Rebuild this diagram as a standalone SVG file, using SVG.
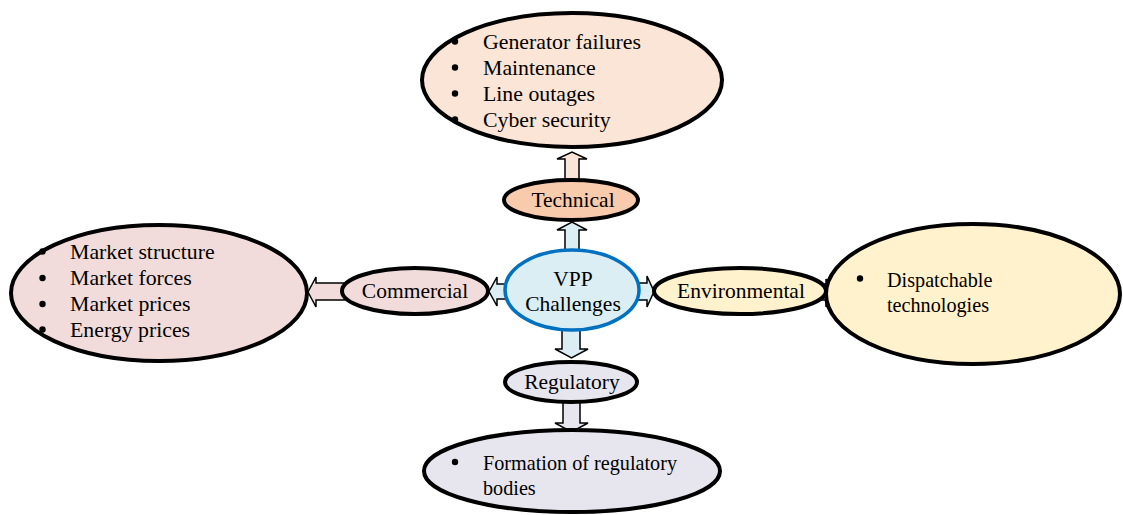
<svg xmlns="http://www.w3.org/2000/svg" width="1123" height="515" viewBox="0 0 1123 515">
  <style>
    text { font-family: "Liberation Serif", "Times New Roman", serif; font-size: 21.5px; fill: #000; }
    .mid { text-anchor: middle; }
    .list { font-size: 21.8px; }
    .small { font-size: 20.2px; }
    .dot { fill: #000; }
    .node { stroke: #000; stroke-width: 4; }
    .core { stroke: #0070c0; stroke-width: 3.5; }
    .arrow { stroke: #000; stroke-width: 1.5; stroke-linejoin: miter; }
    .tech { fill: #fbe5d6; }
    .tech-dark { fill: #f8cbad; }
    .comm { fill: #f2dcdb; }
    .env { fill: #fff2cc; }
    .reg { fill: #e7e6ef; }
    .vpp { fill: #dbeef4; }
  </style>

  <g id="connectors">
    <!-- Technical up to its detail oval -->
    <path class="arrow tech" d="M565,182 V159 H557 L572,152 L587,159 H579 V182 Z"/>
    <!-- VPP up to Technical -->
    <path class="arrow vpp" d="M565,253 V230 H557 L572,222 L587,230 H579 V253 Z"/>
    <!-- VPP left to Commercial -->
    <path class="arrow vpp" d="M508,284 H497 V277 L489,291.5 L497,306 V299 H508 Z"/>
    <!-- Commercial left to its detail oval -->
    <path class="arrow comm" d="M345,283 H316 V277 L308,292 L316,307 V300 H345 Z"/>
    <!-- VPP right to Environmental -->
    <path class="arrow vpp" d="M636,283 H647 V276 L654,291.5 L647,307 V300 H636 Z"/>
    <!-- Environmental right to its detail oval -->
    <path class="arrow env" d="M820,284 H826 V279 L832,293 L826,307 V300 H820 Z"/>
    <!-- VPP down to Regulatory -->
    <path class="arrow vpp" d="M562,328 V349 H555 L571.5,358 L588,349 H580 V328 Z"/>
    <!-- Regulatory down to its detail oval -->
    <path class="arrow reg" d="M563,400 V423 H555 L571.5,432 L588,423 H580 V400 Z"/>
  </g>

  <g id="technical-details">
    <ellipse class="node tech" cx="572" cy="80" rx="150" ry="67"/>
    <circle class="dot" cx="455" cy="41.5" r="3.2"/><text class="list" x="483" y="48.5">Generator failures</text>
    <circle class="dot" cx="455" cy="67.5" r="3.2"/><text class="list" x="483" y="74.5">Maintenance</text>
    <circle class="dot" cx="455" cy="93.5" r="3.2"/><text class="list" x="483" y="100.5">Line outages</text>
    <circle class="dot" cx="455" cy="119.5" r="3.2"/><text class="list" x="483" y="126.5">Cyber security</text>
  </g>

  <g id="technical">
    <ellipse class="node tech-dark" cx="571" cy="200" rx="67" ry="20"/>
    <text class="mid" x="573" y="207">Technical</text>
  </g>

  <g id="vpp-challenges">
    <ellipse class="core vpp" cx="572" cy="290" rx="67" ry="40"/>
    <text class="mid" x="573" y="286">VPP</text>
    <text class="mid" x="573" y="311">Challenges</text>
  </g>

  <g id="commercial">
    <ellipse class="node comm" cx="415" cy="291" rx="73" ry="23"/>
    <text class="mid" x="415" y="298">Commercial</text>
  </g>

  <g id="commercial-details">
    <ellipse class="node comm" cx="159" cy="293" rx="148" ry="68"/>
    <circle class="dot" cx="42.5" cy="251.5" r="3.2"/><text class="list" x="70" y="258.5">Market structure</text>
    <circle class="dot" cx="42.5" cy="278" r="3.2"/><text class="list" x="70" y="285">Market forces</text>
    <circle class="dot" cx="42.5" cy="304" r="3.2"/><text class="list" x="70" y="311">Market prices</text>
    <circle class="dot" cx="42.5" cy="329.5" r="3.2"/><text class="list" x="70" y="336.5">Energy prices</text>
  </g>

  <g id="environmental">
    <ellipse class="node env" cx="740" cy="291" rx="86" ry="23"/>
    <text class="mid" x="741" y="298">Environmental</text>
  </g>

  <g id="environmental-details">
    <ellipse class="node env" cx="973" cy="294" rx="147" ry="70"/>
    <circle class="dot" cx="860" cy="278.5" r="3.2"/><text class="small" x="887" y="286.5">Dispatchable</text>
    <text class="small" x="887" y="311.5">technologies</text>
  </g>

  <g id="regulatory">
    <ellipse class="node reg" cx="571" cy="382" rx="66" ry="20"/>
    <text class="mid" x="572" y="389">Regulatory</text>
  </g>

  <g id="regulatory-details">
    <ellipse class="node reg" cx="572" cy="471" rx="148" ry="41"/>
    <circle class="dot" cx="455" cy="462" r="3.2"/><text class="small" x="483" y="469.5">Formation of regulatory</text>
    <text class="small" x="483" y="494.5">bodies</text>
  </g>
</svg>
